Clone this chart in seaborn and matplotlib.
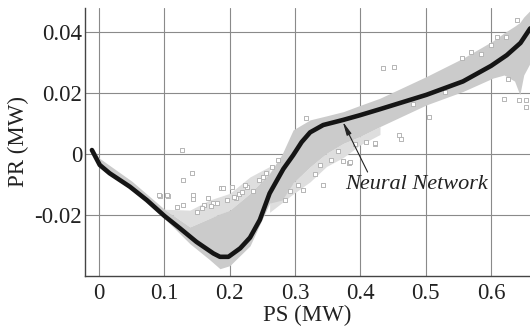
import matplotlib
matplotlib.use("Agg")
import matplotlib.pyplot as plt
import seaborn as sns
import pandas as pd

# ---- Neural network fitted curve ----
nn_x = [-0.011, 0.001, 0.016, 0.047, 0.073, 0.100, 0.124, 0.149, 0.175, 0.185,
        0.198, 0.216, 0.231, 0.246, 0.261, 0.282, 0.297, 0.310, 0.323, 0.343, 0.374,
        0.399, 0.430, 0.501, 0.557, 0.600, 0.624, 0.645, 0.660]
nn_y = [0.0014, -0.0035, -0.0062, -0.0106, -0.0150, -0.0202, -0.0243, -0.0287, -0.0325, -0.0336,
        -0.0336, -0.0308, -0.0273, -0.0215, -0.0128, -0.0048, -0.0003, 0.0040, 0.0072, 0.0096, 0.0113,
        0.0128, 0.0148, 0.0195, 0.0239, 0.0290, 0.0325, 0.0365, 0.0413]

band_x = [-0.010, 0.000, 0.050, 0.100, 0.139, 0.169, 0.185, 0.200, 0.231, 0.261,
          0.280, 0.297, 0.323, 0.348, 0.374, 0.399, 0.430, 0.501, 0.557, 0.603,
          0.620, 0.636, 0.644, 0.650, 0.660]
band_upper = [0.0022, -0.0012, -0.0088, -0.0180, -0.0238, -0.0210, -0.0195, -0.0183, -0.0128, -0.0062,
              0.0000, 0.0080, 0.0113, 0.0126, 0.0140, 0.0160, 0.0184, 0.0255, 0.0315, 0.0372,
              0.0398, 0.0420, 0.0432, 0.0450, 0.0472]
band_lower = [0.0005, -0.0042, -0.0118, -0.0210, -0.0293, -0.0345, -0.0375, -0.0365, -0.0300, -0.0160,
              -0.0150, -0.0094, -0.0041, 0.0003, 0.0036, 0.0058, 0.0091, 0.0162, 0.0206, 0.0250,
              0.0260, 0.0240, 0.0195, 0.0260, 0.0300]

# ---- Sparser speckled zones next to the dense band ----
speck_hi_x = [0.100, 0.139, 0.169, 0.200, 0.231, 0.261]
speck_hi_lo = [-0.0180, -0.0238, -0.0210, -0.0183, -0.0128, -0.0062]
speck_hi_hi = [-0.0180, -0.0183, -0.0150, -0.0128, -0.0074, -0.0040]
speck_lo_x = [0.261, 0.297, 0.323, 0.348, 0.374, 0.399, 0.430]
speck_lo_hi = [-0.0160, -0.0094, -0.0041, 0.0003, 0.0036, 0.0058, 0.0091]
speck_lo_lo = [-0.0190, -0.0130, -0.0090, -0.0040, -0.0010, 0.0030, 0.0065]

# ---- Scattered measured points outside the dense band ----
pts_x = [0.127, 0.142, 0.128, 0.093, 0.106, 0.187, 0.203, 0.226, 0.167, 0.144,
         0.1185, 0.1286, 0.316, 0.435, 0.452, 0.505, 0.459, 0.4615, 0.422, 0.373,
         0.383, 0.570, 0.555, 0.620, 0.643, 0.653, 0.653, 0.626, 0.609, 0.623,
         0.092, 0.104, 0.143, 0.223, 0.190, 0.210, 0.251, 0.274, 0.338, 0.343,
         0.312, 0.384, 0.409, 0.422, 0.160, 0.175, 0.196, 0.214, 0.236, 0.265,
         0.150, 0.158, 0.172, 0.181, 0.207, 0.218, 0.245, 0.255, 0.284, 0.292,
         0.305, 0.330, 0.355, 0.366, 0.392, 0.480, 0.530, 0.585, 0.600, 0.640]
pts_y = [0.0014, -0.0062, -0.0084, -0.0137, -0.0137, -0.0111, -0.0106, -0.0106, -0.0144, -0.0148,
         -0.0172, -0.0166, 0.0118, 0.0282, 0.0287, 0.0121, 0.0063, 0.0049, 0.0033, -0.0022,
         -0.0027, 0.0334, 0.0315, 0.0182, 0.0178, 0.0178, 0.0154, 0.0246, 0.0384, 0.0386,
         -0.0133, -0.0133, -0.0133, -0.0101, -0.0111, -0.0144, -0.0073, -0.0019, -0.0035, -0.0101,
         -0.0117, -0.0024, 0.0041, 0.0036, -0.0165, -0.0158, -0.0150, -0.0130, -0.0120, -0.0040,
         -0.0190, -0.0175, -0.0168, -0.0160, -0.0140, -0.0125, -0.0085, -0.0060, -0.0150, -0.0120,
         -0.0100, -0.0065, -0.0020, 0.0010, 0.0035, 0.0165, 0.0205, 0.0330, 0.0360, 0.0440]

x_ticks = [0, 0.1, 0.2, 0.3, 0.4, 0.5, 0.6]
x_tick_labels = ["0", "0.1", "0.2", "0.3", "0.4", "0.5", "0.6"]
y_ticks = [-0.02, 0, 0.02, 0.04]
y_tick_labels = ["-0.02", "0", "0.02", "0.04"]

sns.set_style("white")
plt.rcParams['font.family'] = ['Liberation Serif', 'DejaVu Serif']

fig = plt.figure(figsize=(5.30, 3.29), dpi=100)
ax = fig.add_axes([0.160, 0.161, 0.840, 0.815])

band_color = '#cbcbcb'
speck_color = '#dedede'
ax.fill_between(speck_hi_x, speck_hi_lo, speck_hi_hi, color=speck_color, linewidth=0, zorder=2)
ax.fill_between(speck_lo_x, speck_lo_lo, speck_lo_hi, color=speck_color, linewidth=0, zorder=2)
ax.fill_between(band_x, band_lower, band_upper, color=band_color, linewidth=0, zorder=2)

pts = pd.DataFrame({"PS": pts_x, "PR": pts_y})
sns.scatterplot(data=pts, x="PS", y="PR", ax=ax, marker='s', s=7,
                facecolor='white', edgecolor='#b5b5b5', linewidth=0.7, zorder=3)

nn = pd.DataFrame({"PS": nn_x, "PR": nn_y})
sns.lineplot(data=nn, x="PS", y="PR", ax=ax, color='#151515', linewidth=3.3,
             sort=False, zorder=4)

ax.set_xlim(-0.0219, 0.6596)
ax.set_ylim(-0.0399, 0.0480)
ax.set_xticks(x_ticks)
ax.set_xticklabels(x_tick_labels)
ax.set_yticks(y_ticks)
ax.set_yticklabels(y_tick_labels)
ax.grid(True, color='#8a8a8a', linewidth=0.8, zorder=1)
ax.set_axisbelow(True)

for s in ['top', 'right']:
    ax.spines[s].set_visible(False)
for s in ['left', 'bottom']:
    ax.spines[s].set_color('#444444')
    ax.spines[s].set_linewidth(1.0)

ax.tick_params(axis='both', which='both', labelsize=16.5, colors='#444444',
               direction='out', length=0, width=0.8, labelcolor='#222222')
ax.tick_params(axis='x', pad=5)
ax.tick_params(axis='y', pad=2)

ax.set_xlabel("PS (MW)", fontsize=16.5, color='#222222', labelpad=1)
ax.set_ylabel("PR (MW)", fontsize=16.5, color='#222222', labelpad=4)

ax.annotate("", xy=(0.373, 0.0107), xytext=(0.411, -0.0058),
            arrowprops=dict(arrowstyle='-|>,head_length=0.8,head_width=0.15',
                            color='#222222', linewidth=0.8, shrinkA=0, shrinkB=0),
            zorder=5)
ax.text(0.486, -0.0098, "Neural Network", fontsize=16, fontstyle='italic',
        color='#222222', ha='center', va='center', zorder=5)

fig.savefig("out.png", dpi=100, facecolor='white')
